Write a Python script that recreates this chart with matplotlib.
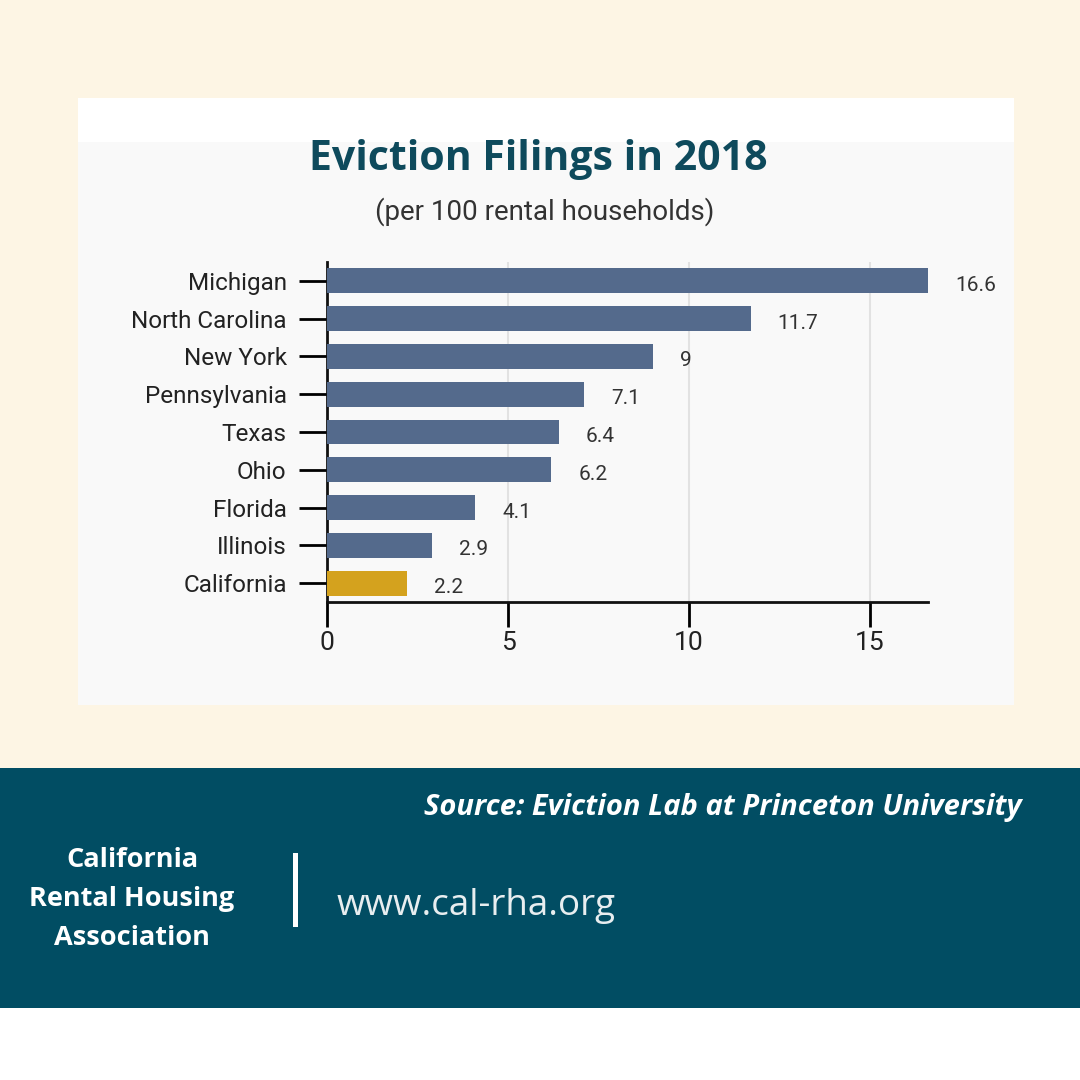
import matplotlib
matplotlib.use("Agg")
import matplotlib.pyplot as plt
from matplotlib.patches import Rectangle
import numpy as np

# data
states = ["Michigan", "North Carolina", "New York", "Pennsylvania", "Texas",
          "Ohio", "Florida", "Illinois", "California"]
filings = [16.6, 11.7, 9, 7.1, 6.4, 6.2, 4.1, 2.9, 2.2]
value_labels = ["16.6", "11.7", "9", "7.1", "6.4", "6.2", "4.1", "2.9", "2.2"]
x_ticks = [0, 5, 10, 15]

BAR = "#546a8c"
GOLD = "#d4a21e"
CREAM = "#fdf5e4"
TEAL = "#014d63"
NARROW = ["Roboto", "DejaVu Sans"]
SANS = ["Open Sans", "DejaVu Sans"]

W, H = 1080, 1080
fig = plt.figure(figsize=(W / 100, H / 100), dpi=100)
fig.patch.set_facecolor("white")

def px(x0, y0, x1, y1):
    # pixel box (top-left origin) -> figure fraction rect
    return (x0 / W, 1 - y1 / H, (x1 - x0) / W, (y1 - y0) / H)

def box(x0, y0, x1, y1, color, z=0):
    l, b, w, h = px(x0, y0, x1, y1)
    fig.patches.append(Rectangle((l, b), w, h, transform=fig.transFigure,
                                 facecolor=color, edgecolor="none", zorder=z))

# background blocks
box(0, 0, W, 768, CREAM)
box(78, 98, 1014, 705, "#f9f9f9", 1)
box(78, 98, 1014, 142, "#ffffff", 1)
box(0, 768, W, 1008, TEAL)
box(293, 853, 298, 927, "white", 2)

# chart
ax = fig.add_axes(px(327, 262, 928, 602))
ax.set_zorder(5)
ax.set_facecolor("none")
y = np.arange(len(states))
colors = [GOLD if s == "California" else BAR for s in states]
ax.barh(y, filings, height=0.66, color=colors, zorder=3)
for yi, v, lab in zip(y, filings, value_labels):
    ax.text(v + 0.75, yi + 0.12, lab, ha="left", va="center",
            fontsize=15, color="#333333", family=NARROW)

ax.set_ylim(len(states) - 0.5, -0.5)
ax.set_xlim(0, max(filings))
ax.set_yticks(y)
ax.set_yticklabels(states, family=NARROW, fontsize=17.5, color="#222222")
ax.set_xticks(x_ticks)
ax.set_xticklabels([str(t) for t in x_ticks], family=NARROW, fontsize=19,
                   color="#222222")
ax.tick_params(axis="y", length=20, width=2, pad=9)
ax.tick_params(axis="x", length=18, width=2, pad=3)
ax.grid(axis="x", color="#e2e2e2", linewidth=1.5, zorder=0)
for s in ["top", "right"]:
    ax.spines[s].set_visible(False)
for s in ["left", "bottom"]:
    ax.spines[s].set_linewidth(2)
    ax.spines[s].set_color("#111111")

# titles
fig.text(538 / W, 1 - 160 / H, "Eviction Filings in 2018", ha="center",
         va="center", fontsize=29.5, fontweight="bold", color="#0e4a5c",
         family=SANS)
fig.text(545 / W, 1 - 212 / H, "(per 100 rental households)", ha="center",
         va="center", fontsize=20, color="#333333", family=NARROW)

# footer
fig.text(1022 / W, 1 - 808 / H, "Source: Eviction Lab at Princeton University",
         ha="right", va="center", fontsize=21, fontweight="bold",
         style="italic", color="white", family=SANS)
for i, line in enumerate(["California", "Rental Housing", "Association"]):
    fig.text(132 / W, 1 - (860 + 39 * i) / H, line, ha="center", va="center",
             fontsize=19.5, fontweight="bold", color="white", family=SANS)
fig.text(337 / W, 1 - 906 / H, "www.cal-rha.org", ha="left", va="center",
         fontsize=26.5, color="#e8eef0", family=SANS)

fig.savefig("out.png", dpi=100, facecolor=fig.get_facecolor())
